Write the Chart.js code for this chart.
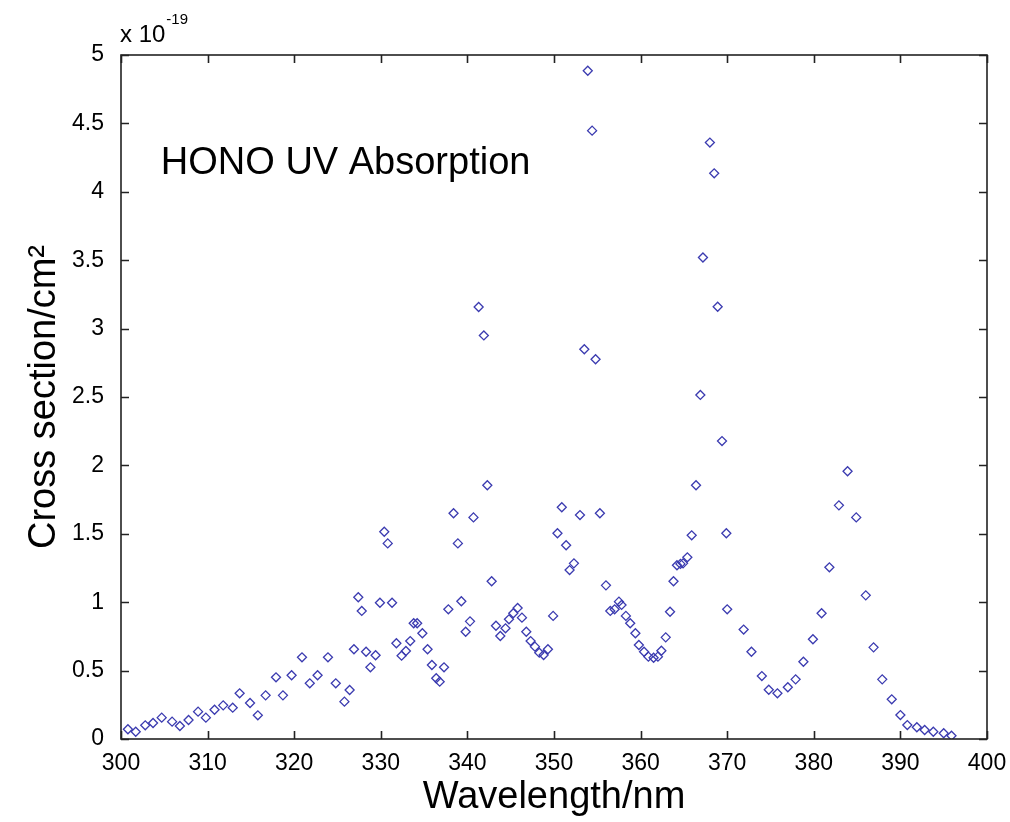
<!DOCTYPE html>
<html>
<head>
<meta charset="utf-8">
<title>HONO UV Absorption</title>
<script src="https://cdn.jsdelivr.net/npm/chart.js@4/dist/chart.umd.min.js"></script>
<style>
  html, body { margin: 0; padding: 0; background: #fff; }
  canvas { display: block; }
</style>
</head>
<body>
<canvas id="chart" width="1010" height="822"></canvas>
<script>
// wavelength (nm) and cross section (units of 1e-19 cm^2)
const wavelengths = [
  300.8, 301.7, 302.8, 303.7, 304.7, 305.9, 306.8, 307.8, 308.9, 309.8,
  310.8, 311.8, 312.9, 313.7, 314.9, 315.8, 316.7, 317.9, 318.7, 319.7,
  320.9, 321.8, 322.7, 323.9, 324.8, 325.8, 326.4, 326.9, 327.4, 327.8,
  328.3, 328.8, 329.4, 329.9, 330.4, 330.8, 331.3, 331.8, 332.4, 332.9,
  333.4, 333.8, 334.2, 334.8, 335.4, 335.9, 336.4, 336.8, 337.3, 337.8,
  338.4, 338.9, 339.3, 339.8, 340.3, 340.7, 341.3, 341.9, 342.3, 342.8,
  343.3, 343.8, 344.4, 344.8, 345.3, 345.8, 346.3, 346.8, 347.3, 347.8,
  348.3, 348.8, 349.3, 349.9, 350.4, 350.9, 351.4, 351.8, 352.3, 353.0,
  353.5, 353.9, 354.4, 354.8, 355.3, 356.0, 356.5, 357.0, 357.5, 357.8,
  358.3, 358.8, 359.4, 359.8, 360.4, 360.9, 361.5, 362.0, 362.4, 362.9,
  363.4, 363.8, 364.2, 364.6, 364.9, 365.4, 365.9, 366.4, 366.9, 367.2,
  368.0, 368.5, 368.9, 369.4, 369.9, 370.0, 371.9, 372.8, 374.0, 374.8,
  375.8, 377.0, 377.9, 378.8, 379.9, 380.9, 381.8, 382.9, 383.9, 384.9,
  386.0, 386.9, 387.9, 389.0, 390.0, 390.8, 391.9, 392.8, 393.8, 395.0,
  395.9
];
const crossSections = [
  0.071, 0.053, 0.100, 0.117, 0.156, 0.127, 0.095, 0.139, 0.200, 0.156,
  0.214, 0.246, 0.229, 0.334, 0.263, 0.173, 0.319, 0.451, 0.319, 0.466,
  0.597, 0.407, 0.466, 0.597, 0.407, 0.273, 0.358, 0.656, 1.036, 0.936,
  0.638, 0.524, 0.612, 0.996, 1.515, 1.430, 0.996, 0.700, 0.609, 0.643,
  0.716, 0.846, 0.846, 0.773, 0.656, 0.541, 0.444, 0.419, 0.524, 0.948,
  1.650, 1.430, 1.007, 0.784, 0.860, 1.620, 3.158, 2.950, 1.855, 1.153,
  0.828, 0.753, 0.809, 0.875, 0.919, 0.958, 0.887, 0.784, 0.716, 0.675,
  0.631, 0.614, 0.656, 0.900, 1.504, 1.694, 1.416, 1.235, 1.284, 1.637,
  2.849, 4.885, 4.447, 2.776, 1.650, 1.123, 0.936, 0.948, 1.004, 0.980,
  0.900, 0.846, 0.773, 0.687, 0.638, 0.602, 0.594, 0.602, 0.645, 0.743,
  0.930, 1.153, 1.270, 1.280, 1.284, 1.328, 1.489, 1.855, 2.515, 3.520,
  4.360, 4.135, 3.160, 2.178, 1.504, 0.948, 0.800, 0.638, 0.460, 0.360,
  0.334, 0.378, 0.436, 0.565, 0.729, 0.919, 1.255, 1.708, 1.957, 1.620,
  1.050, 0.670, 0.436, 0.290, 0.175, 0.102, 0.086, 0.066, 0.053, 0.042,
  0.024
];

const xRange = [300, 400];
const yRange = [0, 5];
const xStep = 10;
const yStep = 0.5;

const noteText = "HONO UV Absorption";
const noteAt = { x: 304.6, y: 4.13 };

const tickFont = "'Liberation Sans Narrow', 'Arial Narrow', 'Liberation Sans', Arial, sans-serif";
const labelFont = "'Liberation Sans', Arial, Helvetica, sans-serif";
const markerColor = "#3b3bb0";

const points = wavelengths.map((x, i) => ({ x, y: crossSections[i] }));

// MATLAB style frame: box, inward ticks on all four sides, exponent, text note
const matlabFrame = {
  id: "matlabFrame",
  afterDraw(chart) {
    const { ctx, chartArea: area, scales } = chart;
    const tick = 8;
    ctx.save();
    ctx.strokeStyle = "#222";
    ctx.lineWidth = 1.6;
    ctx.strokeRect(area.left, area.top, area.right - area.left, area.bottom - area.top);

    ctx.beginPath();
    scales.x.ticks.forEach((t) => {
      const px = Math.round(scales.x.getPixelForValue(t.value)) + 0.5;
      ctx.moveTo(px, area.bottom);
      ctx.lineTo(px, area.bottom - tick);
      ctx.moveTo(px, area.top);
      ctx.lineTo(px, area.top + tick);
    });
    scales.y.ticks.forEach((t) => {
      const py = Math.round(scales.y.getPixelForValue(t.value)) + 0.5;
      ctx.moveTo(area.left, py);
      ctx.lineTo(area.left + tick, py);
      ctx.moveTo(area.right, py);
      ctx.lineTo(area.right - tick, py);
    });
    ctx.stroke();

    ctx.fillStyle = "#000";
    ctx.textBaseline = "alphabetic";
    ctx.textAlign = "left";
    ctx.font = `24px ${tickFont}`;
    ctx.fillText("x 10", area.left - 1, area.top - 13);
    const w = ctx.measureText("x 10").width;
    ctx.font = `15px ${tickFont}`;
    ctx.fillText("-19", area.left - 1 + w + 1, area.top - 31);

    ctx.font = `38px ${labelFont}`;
    ctx.fillText(noteText, scales.x.getPixelForValue(noteAt.x), scales.y.getPixelForValue(noteAt.y));
    ctx.restore();
  }
};

new Chart(document.getElementById("chart"), {
  type: "scatter",
  data: {
    datasets: [
      {
        data: points,
        pointStyle: "rectRot",
        pointRadius: 4.5,
        borderWidth: 1.3,
        borderColor: markerColor,
        backgroundColor: "rgba(0,0,0,0)"
      }
    ]
  },
  options: {
    responsive: false,
    animation: false,
    devicePixelRatio: 1,
    layout: { padding: { left: 0, right: 23, top: 55, bottom: 0 } },
    plugins: {
      legend: { display: false },
      tooltip: { enabled: false }
    },
    scales: {
      x: {
        type: "linear",
        min: xRange[0],
        max: xRange[1],
        afterFit: (scale) => { scale.height = 83; },
        grid: { display: false },
        border: { display: false },
        ticks: {
          stepSize: xStep,
          color: "#000",
          padding: 3,
          maxRotation: 0,
          font: { family: tickFont, size: 23 }
        },
        title: {
          display: true,
          text: "Wavelength/nm",
          color: "#000",
          padding: { top: 0, bottom: 2 },
          font: { family: labelFont, size: 38 }
        }
      },
      y: {
        type: "linear",
        min: yRange[0],
        max: yRange[1],
        afterFit: (scale) => { scale.width = 121; },
        grid: { display: false },
        border: { display: false },
        ticks: {
          stepSize: yStep,
          color: "#000",
          padding: 9,
          font: { family: tickFont, size: 23 },
          callback: (value) => String(value)
        },
        title: {
          display: true,
          text: "Cross section/cm²",
          color: "#000",
          padding: { top: 22, bottom: 0 },
          font: { family: labelFont, size: 38 }
        }
      }
    }
  },
  plugins: [matlabFrame]
});
</script>
</body>
</html>
